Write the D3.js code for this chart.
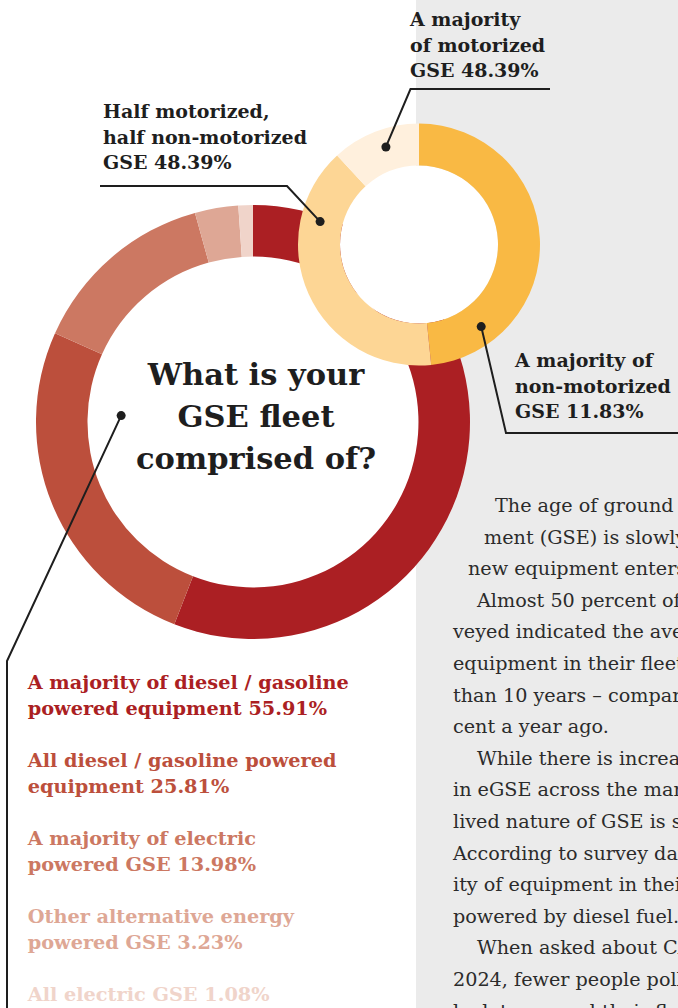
<!DOCTYPE html>
<html>
<head>
<meta charset="utf-8">
<script src="https://cdn.jsdelivr.net/npm/d3@7"></script>
<style>
  html, body { margin: 0; padding: 0; background: #fff; overflow: hidden; }
  svg { display: block; }
</style>
</head>
<body>
<svg id="chart" width="678" height="1008"></svg>
<script>
// Outer ring: what the GSE fleet is made of (percent of respondents)
const fleetCategories = [
  "Majority diesel / gasoline",
  "All diesel / gasoline",
  "Majority electric",
  "Other alternative energy",
  "All electric"
];
const fleetValues = [55.91, 25.81, 13.98, 3.23, 1.08];
const fleetLabelLines = [
  ["A majority of diesel / gasoline", "powered equipment"],
  ["All diesel / gasoline powered", "equipment"],
  ["A majority of electric", "powered GSE"],
  ["Other alternative energy", "powered GSE"],
  ["All electric GSE"]
];

// Small ring: motorized vs non-motorized equipment
const motorCategories = ["Majority motorized", "Half and half", "Majority non-motorized"];
const motorValues = [48.39, 39.78, 11.83];
const motorLabelLines = [
  ["A majority of", "non-motorized", "GSE 11.83%"],
  ["Half motorized,", "half non-motorized", "GSE 48.39%"],
  ["A majority", "of motorized", "GSE 48.39%"]
];

const titleLines = ["What is your", "GSE fleet", "comprised of?"];

const bodyLines = [
  "The age of ground support equip-",
  "ment (GSE) is slowly increasing as",
  "new equipment enters the market.",
  "Almost 50 percent of operators sur-",
  "veyed indicated the average age of",
  "equipment in their fleet was more",
  "than 10 years – compared to 40 per-",
  "cent a year ago.",
  "While there is increased interest",
  "in eGSE across the market, the long-",
  "lived nature of GSE is still evident.",
  "According to survey data, the major-",
  "ity of equipment in their fleets is",
  "powered by diesel fuel.",
  "When asked about CAPEX plans for",
  "2024, fewer people polled said they",
  "look to expand their fleets."
];
const bodyIndent = [42, 31, 15, 24, 0, 0, 0, 0, 24, 0, 0, 0, 0, 0, 24, 0, 0];

// ---- styling ----
const W = 678, H = 1008;
const fleetColors = ["#ab1f23", "#bc4f3c", "#cc7862", "#dea795", "#f0d4ca"];
const motorColors = ["#f9b944", "#fdd695", "#fff0dd"];
const ink = "#1e1e1e";
const serif = "'DejaVu Serif', serif";

const svg = d3.select("#chart");

// grey article column
svg.append("rect").attr("x", 416).attr("y", 0).attr("width", W - 416).attr("height", H)
  .attr("fill", "#ebebeb");

// article text in the grey column
const body = svg.append("g").attr("font-family", serif).attr("font-size", 19.2)
  .attr("fill", "#2b2b2b");
body.selectAll("text").data(bodyLines).join("text")
  .attr("x", (d, i) => 453 + bodyIndent[i])
  .attr("y", (d, i) => 512 + i * 31.6)
  .text(d => d);

const pie = d3.pie().sort(null).value(d => d);

// ---- big ring ----
const big = { cx: 253, cy: 422, r0: 165.5, r1: 217 };
const bigArcs = pie(fleetValues);
const bigArc = d3.arc().innerRadius(big.r0).outerRadius(big.r1);
const gBig = svg.append("g").attr("transform", `translate(${big.cx},${big.cy})`);
gBig.append("circle").attr("r", big.r0).attr("fill", "#fff");
gBig.selectAll("path").data(bigArcs).join("path")
  .attr("d", bigArc).attr("fill", (d, i) => fleetColors[i]);

// ---- small ring ----
const small = { cx: 419, cy: 244.5, r0: 79, r1: 121 };
const smallArcs = pie(motorValues);
const smallArc = d3.arc().innerRadius(small.r0).outerRadius(small.r1);
const gSmall = svg.append("g").attr("transform", `translate(${small.cx},${small.cy})`);
gSmall.append("circle").attr("r", small.r0).attr("fill", "#fff");
gSmall.selectAll("path").data(smallArcs).join("path")
  .attr("d", smallArc).attr("fill", (d, i) => motorColors[i]);

// point on a slice, a fraction of the way through its sweep
function slicePoint(a, frac, r, c) {
  const ang = a.startAngle + frac * (a.endAngle - a.startAngle);
  return [c.cx + r * Math.sin(ang), c.cy - r * Math.cos(ang)];
}

// ---- centre question ----
svg.append("g").attr("font-family", serif).attr("font-weight", "bold")
  .attr("font-size", 30.5).attr("fill", ink).attr("text-anchor", "middle")
  .selectAll("text").data(titleLines).join("text")
  .attr("x", 256).attr("y", (d, i) => 385 + i * 42)
  .text(d => d);

// ---- leader lines and callouts ----
const line = d3.line();
const leaders = [
  // majority non-motorized callout -> orange slice
  { pts: [slicePoint(smallArcs[0], 0.82, 103, small), [506, 433], [W, 433]],
    text: motorLabelLines[0], x: 515, y: 367 },
  // half / half callout -> peach slice
  { pts: [slicePoint(smallArcs[1], 0.76, 101.5, small), [287, 186], [100, 186]],
    text: motorLabelLines[1], x: 103, y: 118 },
  // majority motorized callout -> cream slice
  { pts: [slicePoint(smallArcs[2], 0.56, 103, small), [410.5, 89], [550, 89]],
    text: motorLabelLines[2], x: 410, y: 26 }
];

const gLead = svg.append("g");
leaders.forEach(l => {
  gLead.append("path").attr("d", line(l.pts)).attr("fill", "none")
    .attr("stroke", ink).attr("stroke-width", 2);
  gLead.append("circle").attr("cx", l.pts[0][0]).attr("cy", l.pts[0][1])
    .attr("r", 4.5).attr("fill", ink);
  gLead.append("g").attr("font-family", serif).attr("font-weight", "bold")
    .attr("font-size", 19).attr("fill", ink)
    .selectAll("text").data(l.text).join("text")
    .attr("x", l.x).attr("y", (d, i) => l.y + i * 25.5).text(d => d);
});

// big ring leader down to the legend column
const bigDot = slicePoint(bigArcs[1], 0.77, 132, big);
gLead.append("path").attr("d", line([bigDot, [7, 661], [7, H]])).attr("fill", "none")
  .attr("stroke", ink).attr("stroke-width", 2);
gLead.append("circle").attr("cx", bigDot[0]).attr("cy", bigDot[1]).attr("r", 4.5)
  .attr("fill", ink);

// ---- legend for the big ring ----
const gLeg = svg.append("g").attr("font-family", serif).attr("font-weight", "bold")
  .attr("font-size", 19.3);
fleetLabelLines.forEach((lines, i) => {
  const txt = lines.slice();
  txt[txt.length - 1] += " " + d3.format(".2f")(fleetValues[i]) + "%";
  gLeg.append("g").attr("fill", fleetColors[i])
    .selectAll("text").data(txt).join("text")
    .attr("x", 27.7).attr("y", (d, j) => 689 + i * 78 + j * 26)
    .text(d => d);
});
</script>
</body>
</html>
